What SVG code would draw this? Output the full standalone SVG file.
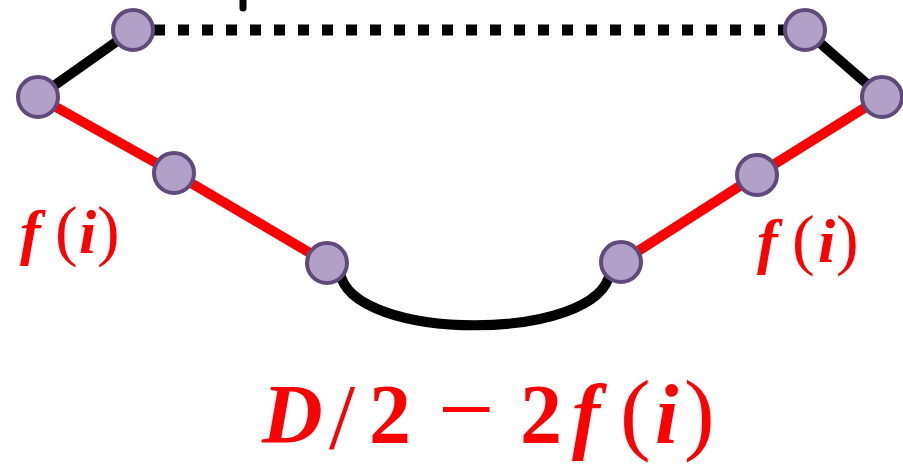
<svg xmlns="http://www.w3.org/2000/svg" width="903" height="469" viewBox="0 0 903 469">
<style>
.node{fill:#B1A0C7;stroke:#604A7B;stroke-width:4}
.blk{stroke:#000;stroke-width:10;fill:none}
.red{stroke:#FF0000;stroke-width:10;fill:none}
.lbl{font-family:"Liberation Serif",serif;font-weight:bold;font-style:italic;fill:#FF0000}
.up{font-style:normal}
.thin{font-style:normal;font-weight:normal}
</style>
<g id="connectors">
<line x1="243" y1="-5" x2="243" y2="8" stroke="#000" stroke-width="7" stroke-linecap="round"/>
<line class="blk" x1="133" y1="30" x2="805" y2="30" style="stroke-width:11" stroke-dasharray="11 13" stroke-dashoffset="3"/>
<line class="blk" x1="133" y1="30" x2="38" y2="97"/>
<line class="blk" x1="805" y1="30" x2="882" y2="97"/>
<polyline class="red" points="38,97 174,173 327,263"/>
<polyline class="red" points="882,97 757,175 621,262"/>
<path class="blk" d="M 340 272 C 350 343, 600 343, 610 272"/>
</g>
<g id="n1"><circle class="node" cx="133" cy="30" r="20"/></g>
<g id="n2"><circle class="node" cx="805" cy="30" r="20"/></g>
<g id="n3"><circle class="node" cx="38" cy="97" r="20"/></g>
<g id="n4"><circle class="node" cx="882" cy="97" r="20"/></g>
<g id="n5"><circle class="node" cx="174" cy="173" r="20"/></g>
<g id="n6"><circle class="node" cx="757" cy="175" r="20"/></g>
<g id="n7"><circle class="node" cx="327" cy="263" r="20"/></g>
<g id="n8"><circle class="node" cx="621" cy="262" r="20"/></g>
<g id="labels">
<text class="lbl" font-size="62" y="253"><tspan x="20">f</tspan><tspan class="thin" font-size="68" x="55">(</tspan><tspan x="79">i</tspan><tspan class="thin" font-size="68" x="97">)</tspan></text>
<text class="lbl" font-size="62" y="262"><tspan x="757">f</tspan><tspan class="thin" font-size="68" x="792">(</tspan><tspan x="818">i</tspan><tspan class="thin" font-size="68" x="836">)</tspan></text>
<text class="lbl" font-size="84" y="443"><tspan x="262">D</tspan><tspan class="thin" font-size="94" x="329" dy="5">/</tspan><tspan class="up" x="369" dy="-5">2</tspan><tspan class="thin" font-size="100" x="438">−</tspan><tspan class="up" x="520">2</tspan><tspan x="572">f</tspan><tspan class="thin" font-size="92" x="620">(</tspan><tspan x="655">i</tspan><tspan class="thin" font-size="92" x="684">)</tspan></text>
</g>
</svg>
